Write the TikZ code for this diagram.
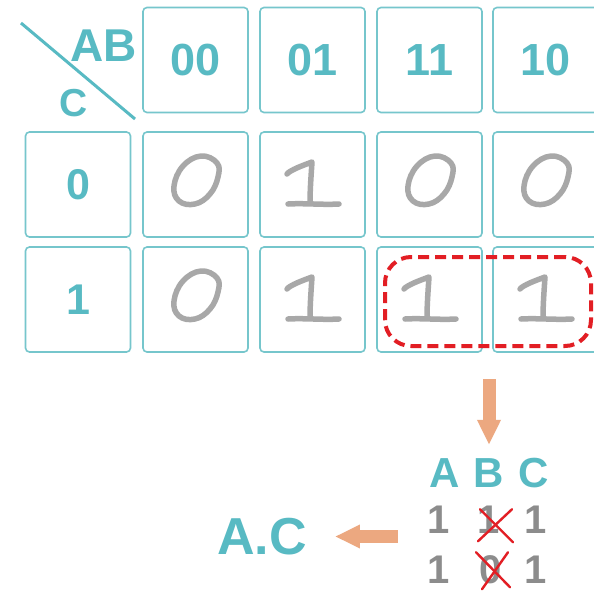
\documentclass[tikz,border=0pt]{standalone}
\usepackage{fontspec}
\setmainfont{Liberation Sans}
\usetikzlibrary{arrows.meta,calc}
\definecolor{tealt}{RGB}{88,186,195}
\definecolor{boxc}{RGB}{118,198,204}
\definecolor{hand}{RGB}{168,168,168}
\definecolor{dgray}{RGB}{140,140,140}
\definecolor{orng}{RGB}{236,168,128}
\definecolor{redd}{RGB}{226,30,36}
\newcommand\hzero[1]{\begin{scope}[shift={(#1.north west)}]
  \draw[hw] plot[smooth cycle,tension=0.7] coordinates {(58,24) (74,31) (75,45) (67,62) (52,72) (36,69) (31,54) (40,34)};
\end{scope}}
\newcommand\hone[1]{\begin{scope}[shift={(#1.north west)}]
  \draw[hw] (27,42) .. controls (30,38) and (44,33) .. (52,30) .. controls (51,45) and (50,58) .. (50,71);
  \draw[hw] (28,72) .. controls (45,71) and (62,73) .. (79,72);
\end{scope}}
\begin{document}
\begin{tikzpicture}[x=1pt,y=-1pt,
  cell/.style={draw=boxc,line width=1.6pt,rounded corners=4pt,minimum width=105pt,minimum height=105pt,inner sep=0pt,outer sep=0pt},
  hdr/.style={text=tealt,font=\bfseries\fontsize{45}{45}\selectfont,inner sep=0pt},
  rowl/.style={text=tealt,font=\bfseries\fontsize{43}{43}\selectfont,inner sep=0pt},
  hw/.style={draw=hand,line width=5.5pt,line cap=round,line join=round},
  tl/.style={text=tealt,font=\bfseries\fontsize{42}{42}\selectfont,inner sep=0pt,anchor=base},
  dg/.style={text=dgray,font=\bfseries\fontsize{40}{40}\selectfont,inner sep=0pt,anchor=base},
  xm/.style={draw=redd,line width=2.4pt,line cap=round},
  oarrow/.style={draw=orng,line width=13pt,-{Triangle[length=25pt,width=22pt]}}
]
\useasboundingbox (0,0) rectangle (594,592);
\fill[white] (0,0) rectangle (594,592);
\clip (0,0) rectangle (594,592);

% corner label
\draw[tealt,line width=3pt] (21,23) -- (135,119);
\node[text=tealt,font=\bfseries\fontsize{46}{46}\selectfont,inner sep=0pt] (lAB) at (103.5,45.5) {AB};
\node[text=tealt,font=\bfseries\fontsize{39}{39}\selectfont,inner sep=0pt] (lC) at (74,103.5) {C};

% header row
\node[cell] (h00) at (195.5,60) {}; \node[hdr] at (h00) {00};
\node[cell] (h01) at (312.5,60) {}; \node[hdr] at (h01) {01};
\node[cell] (h11) at (429.5,60) {}; \node[hdr] at (h11) {11};
\node[cell] (h10) at (545.5,60) {}; \node[hdr] at (h10) {10};

% row labels
\node[cell] (r0) at (78,184.5) {}; \node[rowl] at (r0) {0};
\node[cell] (r1) at (78,299.5) {}; \node[rowl] at (r1) {1};

% row 0
\node[cell] (c000) at (195.5,184.5) {};
\node[cell] (c001) at (312.5,184.5) {};
\node[cell] (c011) at (429.5,184.5) {};
\node[cell] (c010) at (545.5,184.5) {};
% row 1
\node[cell] (c100) at (195.5,299.5) {};
\node[cell] (c101) at (312.5,299.5) {};
\node[cell] (c111) at (429.5,299.5) {};
\node[cell] (c110) at (545.5,299.5) {};

\hzero{c000} \hone{c001} \hzero{c011} \hzero{c010}
\hzero{c100} \hone{c101} \hone{c111} \hone{c110}

% group
\node[draw=redd,line width=4pt,dash pattern=on 11pt off 6pt,rounded corners=26pt,
      minimum width=206pt,minimum height=89pt,inner sep=0pt,outer sep=0pt] (grp) at (488,301.5) {};

% table
\node[tl] (tA) at (445,487) {A};
\node[tl] (tB) at (489,487) {B};
\node[tl] (tC) at (534,487) {C};
\node[dg] (a1) at (439,533) {1};
\node[dg] (b1) at (489,533) {1};
\node[dg] (c1) at (536,533) {1};
\node[dg] (a2) at (439,583) {1};
\node[dg] (b2) at (491,583) {0};
\node[dg] (c2) at (536,583) {1};
\draw[xm] ($(b1.center)+(-9,-10)$) -- ($(b1.center)+(24,23)$);
\draw[xm] ($(b1.center)+(23,-10)$) -- ($(b1.center)+(-11,22)$);
\draw[xm] ($(b2.center)+(-15,-17)$) -- ($(b2.center)+(19,18)$);
\draw[xm] ($(b2.center)+(17,-17)$) -- ($(b2.center)+(-9,20)$);

\node[text=tealt,font=\bfseries\fontsize{52}{52}\selectfont,inner sep=0pt] (AC) at (262,536.5) {A.C};

% arrows
\draw[oarrow,shorten <=33pt,shorten >=13pt] (tB.north |- grp.south) -- (tB.north);
\draw[oarrow,shorten <=30pt,shorten >=28pt] (AC.east -| a1.west) -- (AC.east);
\end{tikzpicture}
\end{document}
